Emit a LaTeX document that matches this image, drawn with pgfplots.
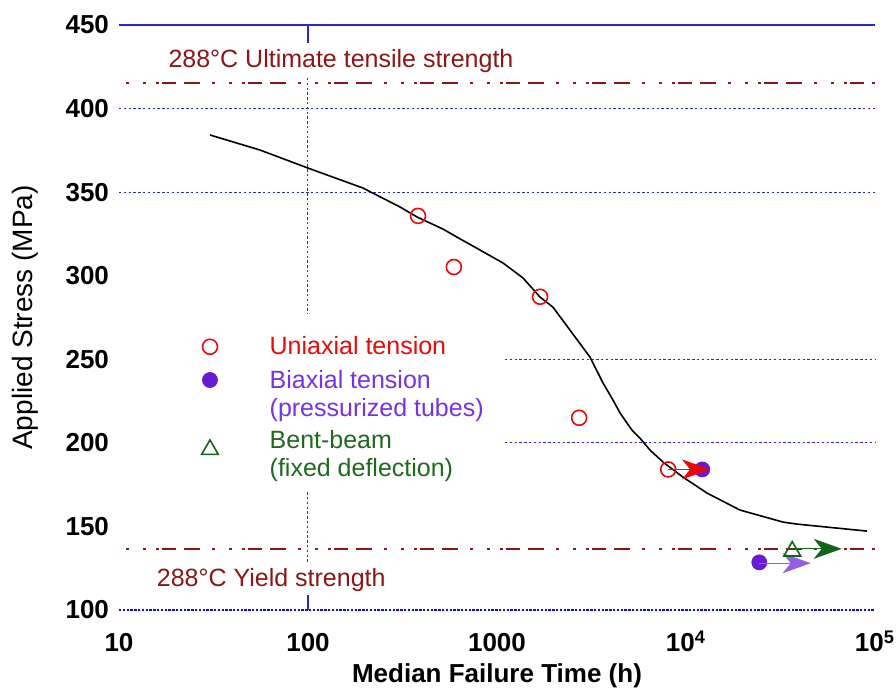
\documentclass[border=0pt]{standalone}
\usepackage{fontspec}
\setmainfont{Liberation Sans}
\usepackage{pgfplots}
\pgfplotsset{compat=1.18}
\usetikzlibrary{arrows.meta}
\definecolor{gridblue}{RGB}{40,40,215}
\definecolor{botblue}{RGB}{10,10,230}
\definecolor{darkred}{RGB}{139,22,22}
\definecolor{unired}{RGB}{232,10,10}
\definecolor{bipurple}{RGB}{104,28,210}
\definecolor{bitext}{RGB}{118,50,228}
\definecolor{bentgreen}{RGB}{18,100,24}
\definecolor{benttext}{RGB}{30,105,30}
\begin{document}
\begin{tikzpicture}
\begin{axis}[
  xmode=log, xmin=10, xmax=100000, ymin=100, ymax=450,
  at={(0,0)}, anchor=south west,
  scale only axis, width=378pt, height=292.5pt,
  axis line style={draw=none}, tick style={draw=none},
  major tick length=0pt, minor tick length=0pt,
  xtick={10,100,1000,10000,100000},
  xticklabels={10,100,1000,10\textsuperscript{4},10\textsuperscript{5}},
  ytick={100,150,...,450},
  yticklabel style={/pgf/number format/assume math mode=true, font=\bfseries\fontsize{13}{15}\selectfont, anchor=east, xshift=-1.5pt},
  xticklabel style={font=\bfseries\fontsize{13}{15}\selectfont, anchor=base, yshift=-21pt},
  xlabel={Median Failure Time (h)},
  ylabel={Applied Stress (MPa)},
  xlabel style={at={(axis description cs:0.5,-0.1231)}, anchor=base, font=\bfseries\fontsize{13}{15}\selectfont},
  ylabel style={at={(axis description cs:-0.1138,0.5)}, anchor=base, rotate=0, font=\fontsize{14}{16}\selectfont},
  clip=false, clip marker paths=true,
]
% grid lines
\draw[gridblue, line width=0.6pt] (axis cs:10,450) -- (axis cs:100000,450);
\draw[gridblue, line width=0.5pt, dash pattern=on 1.2pt off 1.2pt] (axis cs:10,400) -- (axis cs:100000,400);
\draw[gridblue, line width=0.5pt, dash pattern=on 1.2pt off 1.2pt] (axis cs:10,350) -- (axis cs:100000,350);
\draw[gridblue, line width=0.5pt, dash pattern=on 1.2pt off 1.2pt] (axis cs:1102,250) -- (axis cs:100000,250);
\draw[gridblue, line width=0.5pt, dash pattern=on 1.2pt off 1.2pt] (axis cs:1102,200) -- (axis cs:100000,200);
\draw[botblue, line width=1.1pt, dash pattern=on 1.2pt off 0.7pt] (axis cs:10,100) -- (axis cs:100000,100);
\draw[gridblue, line width=0.6pt] (axis cs:100,450) -- (axis cs:100,439.2);
\draw[gridblue, line width=0.5pt, dash pattern=on 1.2pt off 1.2pt] (axis cs:100,418.3) -- (axis cs:100,277);
\draw[gridblue, line width=0.5pt, dash pattern=on 1.2pt off 1.2pt] (axis cs:100,170.5) -- (axis cs:100,128);
\draw[gridblue, line width=0.6pt] (axis cs:100,108.9) -- (axis cs:100,100);
% strength lines
\addplot[darkred, line width=1pt, dash pattern=on 1.5pt off 7pt on 1.5pt off 5pt on 1.5pt off 1.5pt on 7pt off 4pt on 8pt off 6pt] coordinates {(10.9,415) (100000,415)};
\addplot[darkred, line width=1pt, dash pattern=on 1.5pt off 7pt on 1.5pt off 5pt on 1.5pt off 1.5pt on 7pt off 4pt on 8pt off 6pt] coordinates {(10.9,136.2) (100000,136.2)};
\node[darkred, anchor=base west, inner sep=0pt, font=\fontsize{12.5}{15}\selectfont] at (axis cs:18.2,424.7) {288°C Ultimate tensile strength};
\node[darkred, anchor=base west, inner sep=0pt, font=\fontsize{12.5}{15}\selectfont] at (axis cs:15.8,113.9) {288°C Yield strength};
% trend curve
\addplot[black, line width=0.8pt] coordinates {
(30.3,384.2) (55.7,375.2) (100,364.4) (195,352.5) (307,341.1) (378,335.1)
(518,327.9) (614,323.1) (1077,307.6) (1374,298.6) (1690,287.2) (1978,281.2)
(2432,267.5) (3105,251.3) (3640,235.8) (4110,225.6) (4480,217.8) (5180,207.6)
(5710,202.8) (6450,195.7) (7560,188.5) (9640,179.5) (12900,170) (19300,159.8)
(32600,152.6) (38600,151.4) (90800,147.2)};
% biaxial
\addplot[only marks, mark=*, mark size=3.75pt, bipurple, mark options={fill=bipurple}] coordinates {(12190,184.1) (24430,128.5)};
\addplot[bipurple!70, line width=0.6pt, -{Stealth[length=14pt,width=10pt,inset=4pt]}] coordinates {(24430,128.0) (45700,128.0)};
% uniaxial
\addplot[only marks, mark=o, mark size=3.75pt, unired, mark options={line width=0.8pt}] coordinates {(382,335.8) (591,305.2) (1690,287.4) (2720,215) (8050,184.1)};
% bent beam
\addplot[only marks, mark=triangle, mark size=4.8pt, bentgreen, mark options={line width=0.8pt}] coordinates {(36500,135.2)};
\addplot[bentgreen, line width=0.6pt, -{Stealth[length=14pt,width=10pt,inset=4pt]}] coordinates {(36500,136.6) (66700,136.6)};
% legend
\addplot[only marks, mark=o, mark size=3.75pt, unired, mark options={line width=0.8pt}] coordinates {(30.3,257.5)};
\addplot[only marks, mark=*, mark size=3.75pt, bipurple, mark options={fill=bipurple}] coordinates {(30.3,237.6)};
\addplot[only marks, mark=triangle, mark size=4.8pt, bentgreen, mark options={line width=0.8pt}] coordinates {(30.3,196.0)};
\node[unired, anchor=base west, inner sep=0pt, font=\fontsize{12.5}{15}\selectfont] at (axis cs:62.4,252.9) {Uniaxial tension};
\node[bitext, anchor=base west, inner sep=0pt, font=\fontsize{12.5}{15}\selectfont] at (axis cs:62.4,232.6) {Biaxial tension};
\node[bitext, anchor=base west, inner sep=0pt, font=\fontsize{12.5}{15}\selectfont] at (axis cs:62.4,215.6) {(pressurized tubes)};
\node[benttext, anchor=base west, inner sep=0pt, font=\fontsize{12.5}{15}\selectfont] at (axis cs:62.4,196.7) {Bent-beam};
\node[benttext, anchor=base west, inner sep=0pt, font=\fontsize{12.5}{15}\selectfont] at (axis cs:62.4,179.7) {(fixed deflection)};
% red arrow on top
\addplot[unired, line width=0.6pt, -{Stealth[length=14pt,width=10pt,inset=4pt]}] coordinates {(8050,184.1) (13400,184.1)};
\end{axis}
\pgfresetboundingbox
\path[use as bounding box] (-59.5pt,-43pt) rectangle (388.5pt,305pt);
\end{tikzpicture}
\end{document}
